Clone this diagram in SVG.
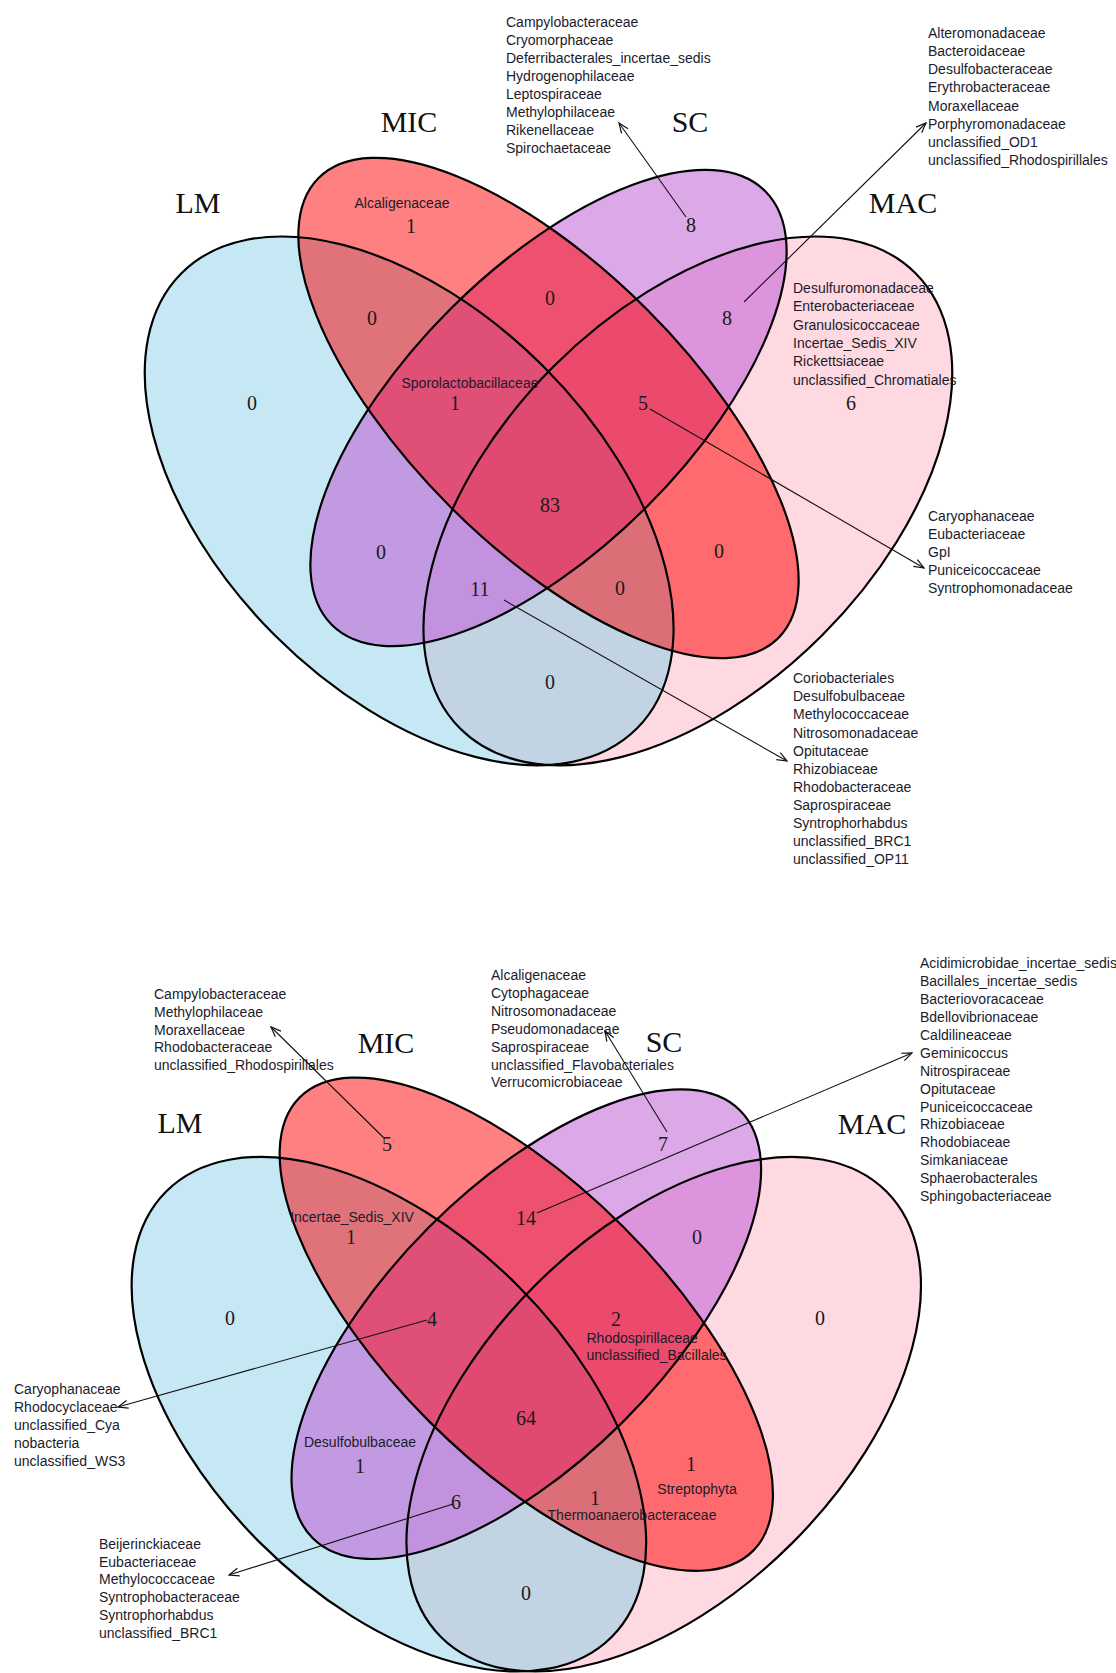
<svg xmlns="http://www.w3.org/2000/svg" xmlns:xlink="http://www.w3.org/1999/xlink" width="1116" height="1673" viewBox="0 0 1116 1673">
<style>
.lbl{font-family:"Liberation Serif","Times New Roman",serif;font-size:30px;fill:#111;text-anchor:middle}
.num{font-family:"Liberation Serif","Times New Roman",serif;font-size:20px;fill:#1a1a1a;text-anchor:middle}
.tx{font-family:"Liberation Sans",Arial,sans-serif;font-size:14px;fill:#1b1b2b}
.txm{font-family:"Liberation Sans",Arial,sans-serif;font-size:14px;fill:#1b1b2b;text-anchor:middle}
.out{fill:none;stroke:#000;stroke-width:2.2}
.conn{fill:none;stroke:#111;stroke-width:1.1;marker-end:url(#arr)}
</style>
<defs>
<marker id="arr" viewBox="0 0 12 10" refX="11" refY="5" markerWidth="12" markerHeight="10" markerUnits="userSpaceOnUse" orient="auto">
<path d="M1,1 L11,5 L1,9" fill="none" stroke="#111" stroke-width="1.2"/>
</marker>
<ellipse id="tLM" cx="409.15" cy="500.9" rx="322" ry="190" transform="rotate(45 409.15 500.9)"/>
<ellipse id="tMIC" cx="548.5" cy="408" rx="325.15" ry="139.35" transform="rotate(45 548.5 408)"/>
<ellipse id="tSC" cx="548.5" cy="408" rx="306.57" ry="139.35" transform="rotate(-45 548.5 408)"/>
<ellipse id="tMAC" cx="687.85" cy="500.9" rx="322" ry="190" transform="rotate(-45 687.85 500.9)"/>
<clipPath id="ctMIC"><ellipse cx="548.5" cy="408" rx="325.15" ry="139.35" transform="rotate(45 548.5 408)"/></clipPath>
<clipPath id="ctSC"><ellipse cx="548.5" cy="408" rx="306.57" ry="139.35" transform="rotate(-45 548.5 408)"/></clipPath>
<clipPath id="ctMAC"><ellipse cx="687.85" cy="500.9" rx="322" ry="190" transform="rotate(-45 687.85 500.9)"/></clipPath>
<ellipse id="bLM" cx="388.9" cy="1414.2" rx="315" ry="182" transform="rotate(45 388.9 1414.2)"/>
<ellipse id="bMIC" cx="526.3" cy="1324.2" rx="320.6" ry="137.4" transform="rotate(45 526.3 1324.2)"/>
<ellipse id="bSC" cx="526.3" cy="1324.2" rx="302.28" ry="137.4" transform="rotate(-45 526.3 1324.2)"/>
<ellipse id="bMAC" cx="663.7" cy="1414.2" rx="315" ry="182" transform="rotate(-45 663.7 1414.2)"/>
<clipPath id="cbMIC"><ellipse cx="526.3" cy="1324.2" rx="320.6" ry="137.4" transform="rotate(45 526.3 1324.2)"/></clipPath>
<clipPath id="cbSC"><ellipse cx="526.3" cy="1324.2" rx="302.28" ry="137.4" transform="rotate(-45 526.3 1324.2)"/></clipPath>
<clipPath id="cbMAC"><ellipse cx="663.7" cy="1414.2" rx="315" ry="182" transform="rotate(-45 663.7 1414.2)"/></clipPath>
</defs>
<rect width="1116" height="1673" fill="#fff"/>

<!-- TOP VENN -->
<g id="venn-top">
<g id="top-fills">
<use href="#tLM" fill="#C6E8F5"/>
<use href="#tMAC" fill="#FFD9E1"/>
<use href="#tMIC" fill="#FF8080"/>
<use href="#tSC" fill="#DCA8E8"/>
<g clip-path="url(#ctMIC)"><use href="#tLM" fill="#E0727A"/></g>
<g clip-path="url(#ctSC)"><use href="#tLM" fill="#C29AE2"/></g>
<g clip-path="url(#ctMAC)"><use href="#tLM" fill="#C2D4E4"/></g>
<g clip-path="url(#ctSC)"><use href="#tMIC" fill="#EE5070"/></g>
<g clip-path="url(#ctMAC)"><use href="#tMIC" fill="#FF6A6E"/></g>
<g clip-path="url(#ctMAC)"><use href="#tSC" fill="#DC94DC"/></g>
<g clip-path="url(#ctMIC)"><g clip-path="url(#ctSC)"><use href="#tLM" fill="#E05076"/></g></g>
<g clip-path="url(#ctMIC)"><g clip-path="url(#ctMAC)"><use href="#tLM" fill="#DC6E78"/></g></g>
<g clip-path="url(#ctSC)"><g clip-path="url(#ctMAC)"><use href="#tLM" fill="#C292DE"/></g></g>
<g clip-path="url(#ctSC)"><g clip-path="url(#ctMAC)"><use href="#tMIC" fill="#EC4A6C"/></g></g>
<g clip-path="url(#ctMIC)"><g clip-path="url(#ctSC)"><g clip-path="url(#ctMAC)"><use href="#tLM" fill="#E04A70"/></g></g></g>
</g>
<g id="top-set-LM"><use href="#tLM" class="out"/><text class="lbl" x="198" y="213">LM</text></g>
<g id="top-set-MIC"><use href="#tMIC" class="out"/><text class="lbl" x="409" y="132">MIC</text></g>
<g id="top-set-SC"><use href="#tSC" class="out"/><text class="lbl" x="690" y="132">SC</text></g>
<g id="top-set-MAC"><use href="#tMAC" class="out"/><text class="lbl" x="903" y="213">MAC</text></g>

<g id="top-MIC-only"><text class="txm" x="402" y="208">Alcaligenaceae</text><text class="num" x="411" y="233">1</text></g>
<g id="top-SC-only"><text class="num" x="691" y="232">8</text></g>
<g id="top-LM-only"><text class="num" x="252" y="410">0</text></g>
<g id="top-MAC-only"><text class="tx" x="793"><tspan x="793" y="293">Desulfuromonadaceae</tspan><tspan x="793" y="311">Enterobacteriaceae</tspan><tspan x="793" y="330">Granulosicoccaceae</tspan><tspan x="793" y="348">Incertae_Sedis_XIV</tspan><tspan x="793" y="366">Rickettsiaceae</tspan><tspan x="793" y="385">unclassified_Chromatiales</tspan></text><text class="num" x="851" y="410">6</text></g>
<g id="top-LM-MIC"><text class="num" x="372" y="325">0</text></g>
<g id="top-MIC-SC"><text class="num" x="550" y="305">0</text></g>
<g id="top-SC-MAC"><text class="num" x="727" y="325">8</text></g>
<g id="top-LM-MIC-SC"><text class="txm" x="470" y="388">Sporolactobacillaceae</text><text class="num" x="455" y="410">1</text></g>
<g id="top-MIC-SC-MAC"><text class="num" x="643" y="410">5</text></g>
<g id="top-all"><text class="num" x="550" y="512">83</text></g>
<g id="top-LM-SC"><text class="num" x="381" y="559">0</text></g>
<g id="top-MIC-MAC"><text class="num" x="719" y="558">0</text></g>
<g id="top-LM-SC-MAC"><text class="num" x="480" y="596">11</text></g>
<g id="top-LM-MIC-MAC"><text class="num" x="620" y="595">0</text></g>
<g id="top-LM-MAC"><text class="num" x="550" y="689">0</text></g>

<g id="top-list-SC"><text class="tx"><tspan x="506" y="26.7">Campylobacteraceae</tspan><tspan x="506" y="44.8">Cryomorphaceae</tspan><tspan x="506" y="62.9">Deferribacterales_incertae_sedis</tspan><tspan x="506" y="81">Hydrogenophilaceae</tspan><tspan x="506" y="99.1">Leptospiraceae</tspan><tspan x="506" y="117.2">Methylophilaceae</tspan><tspan x="506" y="135.3">Rikenellaceae</tspan><tspan x="506" y="153.4">Spirochaetaceae</tspan></text></g>
<g id="top-list-SC-MAC"><text class="tx"><tspan x="928" y="37.7">Alteromonadaceae</tspan><tspan x="928" y="55.9">Bacteroidaceae</tspan><tspan x="928" y="74.1">Desulfobacteraceae</tspan><tspan x="928" y="92.3">Erythrobacteraceae</tspan><tspan x="928" y="110.5">Moraxellaceae</tspan><tspan x="928" y="128.7">Porphyromonadaceae</tspan><tspan x="928" y="146.9">unclassified_OD1</tspan><tspan x="928" y="165.1">unclassified_Rhodospirillales</tspan></text></g>
<g id="top-list-MIC-SC-MAC"><text class="tx"><tspan x="928" y="521">Caryophanaceae</tspan><tspan x="928" y="539.1">Eubacteriaceae</tspan><tspan x="928" y="557.2">GpI</tspan><tspan x="928" y="575.3">Puniceicoccaceae</tspan><tspan x="928" y="593.4">Syntrophomonadaceae</tspan></text></g>
<g id="top-list-LM-SC-MAC"><text class="tx"><tspan x="793" y="683.3">Coriobacteriales</tspan><tspan x="793" y="701.4">Desulfobulbaceae</tspan><tspan x="793" y="719.4">Methylococcaceae</tspan><tspan x="793" y="737.5">Nitrosomonadaceae</tspan><tspan x="793" y="755.5">Opitutaceae</tspan><tspan x="793" y="773.6">Rhizobiaceae</tspan><tspan x="793" y="791.6">Rhodobacteraceae</tspan><tspan x="793" y="809.7">Saprospiraceae</tspan><tspan x="793" y="827.7">Syntrophorhabdus</tspan><tspan x="793" y="845.8">unclassified_BRC1</tspan><tspan x="793" y="863.8">unclassified_OP11</tspan></text></g>
</g>

<!-- BOTTOM VENN -->
<g id="venn-bottom">
<g id="bottom-fills">
<use href="#bLM" fill="#C6E8F5"/>
<use href="#bMAC" fill="#FFD9E1"/>
<use href="#bMIC" fill="#FF8080"/>
<use href="#bSC" fill="#DCA8E8"/>
<g clip-path="url(#cbMIC)"><use href="#bLM" fill="#E0727A"/></g>
<g clip-path="url(#cbSC)"><use href="#bLM" fill="#C29AE2"/></g>
<g clip-path="url(#cbMAC)"><use href="#bLM" fill="#C2D4E4"/></g>
<g clip-path="url(#cbSC)"><use href="#bMIC" fill="#EE5070"/></g>
<g clip-path="url(#cbMAC)"><use href="#bMIC" fill="#FF6A6E"/></g>
<g clip-path="url(#cbMAC)"><use href="#bSC" fill="#DC94DC"/></g>
<g clip-path="url(#cbMIC)"><g clip-path="url(#cbSC)"><use href="#bLM" fill="#E05076"/></g></g>
<g clip-path="url(#cbMIC)"><g clip-path="url(#cbMAC)"><use href="#bLM" fill="#DC6E78"/></g></g>
<g clip-path="url(#cbSC)"><g clip-path="url(#cbMAC)"><use href="#bLM" fill="#C292DE"/></g></g>
<g clip-path="url(#cbSC)"><g clip-path="url(#cbMAC)"><use href="#bMIC" fill="#EC4A6C"/></g></g>
<g clip-path="url(#cbMIC)"><g clip-path="url(#cbSC)"><g clip-path="url(#cbMAC)"><use href="#bLM" fill="#E04A70"/></g></g></g>
</g>
<g id="bot-set-LM"><use href="#bLM" class="out"/><text class="lbl" x="180" y="1133">LM</text></g>
<g id="bot-set-MIC"><use href="#bMIC" class="out"/><text class="lbl" x="386" y="1053">MIC</text></g>
<g id="bot-set-SC"><use href="#bSC" class="out"/><text class="lbl" x="664" y="1052">SC</text></g>
<g id="bot-set-MAC"><use href="#bMAC" class="out"/><text class="lbl" x="872" y="1134">MAC</text></g>

<g id="bot-MIC-only"><text class="num" x="387" y="1151">5</text></g>
<g id="bot-SC-only"><text class="num" x="663" y="1151">7</text></g>
<g id="bot-LM-MIC"><text class="txm" x="352" y="1222">Incertae_Sedis_XIV</text><text class="num" x="351" y="1244">1</text></g>
<g id="bot-MIC-SC"><text class="num" x="526" y="1225">14</text></g>
<g id="bot-SC-MAC"><text class="num" x="697" y="1244">0</text></g>
<g id="bot-LM-only"><text class="num" x="230" y="1325">0</text></g>
<g id="bot-LM-MIC-SC"><text class="num" x="432" y="1326">4</text></g>
<g id="bot-MIC-SC-MAC"><text class="num" x="616" y="1326">2</text><text class="tx"><tspan x="586.5" y="1343">Rhodospirillaceae</tspan><tspan x="586.5" y="1360">unclassified_Bacillales</tspan></text></g>
<g id="bot-MAC-only"><text class="num" x="820" y="1325">0</text></g>
<g id="bot-all"><text class="num" x="526" y="1425">64</text></g>
<g id="bot-LM-SC"><text class="txm" x="360" y="1447">Desulfobulbaceae</text><text class="num" x="360" y="1473">1</text></g>
<g id="bot-LM-SC-MAC"><text class="num" x="456" y="1509">6</text></g>
<g id="bot-MIC-MAC"><text class="num" x="691" y="1471">1</text><text class="txm" x="697" y="1494">Streptophyta</text></g>
<g id="bot-LM-MIC-MAC"><text class="num" x="595" y="1505">1</text><text class="txm" x="632" y="1520">Thermoanaerobacteraceae</text></g>
<g id="bot-LM-MAC"><text class="num" x="526" y="1600">0</text></g>

<g id="bot-list-MIC"><text class="tx"><tspan x="154" y="999">Campylobacteraceae</tspan><tspan x="154" y="1016.8">Methylophilaceae</tspan><tspan x="154" y="1034.5">Moraxellaceae</tspan><tspan x="154" y="1052.3">Rhodobacteraceae</tspan><tspan x="154" y="1070">unclassified_Rhodospirillales</tspan></text></g>
<g id="bot-list-SC"><text class="tx"><tspan x="491" y="980">Alcaligenaceae</tspan><tspan x="491" y="997.9">Cytophagaceae</tspan><tspan x="491" y="1015.8">Nitrosomonadaceae</tspan><tspan x="491" y="1033.7">Pseudomonadaceae</tspan><tspan x="491" y="1051.6">Saprospiraceae</tspan><tspan x="491" y="1069.5">unclassified_Flavobacteriales</tspan><tspan x="491" y="1087.4">Verrucomicrobiaceae</tspan></text></g>
<g id="bot-list-MIC-SC"><text class="tx"><tspan x="920" y="968.3">Acidimicrobidae_incertae_sedis</tspan><tspan x="920" y="986.2">Bacillales_incertae_sedis</tspan><tspan x="920" y="1004.1">Bacteriovoracaceae</tspan><tspan x="920" y="1022">Bdellovibrionaceae</tspan><tspan x="920" y="1039.9">Caldilineaceae</tspan><tspan x="920" y="1057.8">Geminicoccus</tspan><tspan x="920" y="1075.7">Nitrospiraceae</tspan><tspan x="920" y="1093.6">Opitutaceae</tspan><tspan x="920" y="1111.5">Puniceicoccaceae</tspan><tspan x="920" y="1129.4">Rhizobiaceae</tspan><tspan x="920" y="1147.3">Rhodobiaceae</tspan><tspan x="920" y="1165.2">Simkaniaceae</tspan><tspan x="920" y="1183.1">Sphaerobacterales</tspan><tspan x="920" y="1201">Sphingobacteriaceae</tspan></text></g>
<g id="bot-list-LM-MIC-SC"><text class="tx"><tspan x="14" y="1394.3">Caryophanaceae</tspan><tspan x="14" y="1412.1">Rhodocyclaceae</tspan><tspan x="14" y="1429.9">unclassified_Cya</tspan><tspan x="14" y="1447.7">nobacteria</tspan><tspan x="14" y="1465.5">unclassified_WS3</tspan></text></g>
<g id="bot-list-LM-SC-MAC"><text class="tx"><tspan x="99" y="1549">Beijerinckiaceae</tspan><tspan x="99" y="1566.7">Eubacteriaceae</tspan><tspan x="99" y="1584.4">Methylococcaceae</tspan><tspan x="99" y="1602.1">Syntrophobacteraceae</tspan><tspan x="99" y="1619.8">Syntrophorhabdus</tspan><tspan x="99" y="1637.5">unclassified_BRC1</tspan></text></g>
</g>

<g id="connectors">
<line class="conn" x1="686" y1="217" x2="619" y2="123"/>
<line class="conn" x1="744" y1="302" x2="926" y2="123"/>
<line class="conn" x1="650" y1="409" x2="924" y2="568"/>
<line class="conn" x1="504" y1="600" x2="787" y2="761"/>
<line class="conn" x1="384" y1="1138" x2="271" y2="1027"/>
<line class="conn" x1="667" y1="1132" x2="605" y2="1031"/>
<line class="conn" x1="537" y1="1213" x2="912" y2="1053"/>
<line class="conn" x1="427" y1="1320" x2="118" y2="1407"/>
<line class="conn" x1="453" y1="1504" x2="229" y2="1575"/>
</g>
</svg>
